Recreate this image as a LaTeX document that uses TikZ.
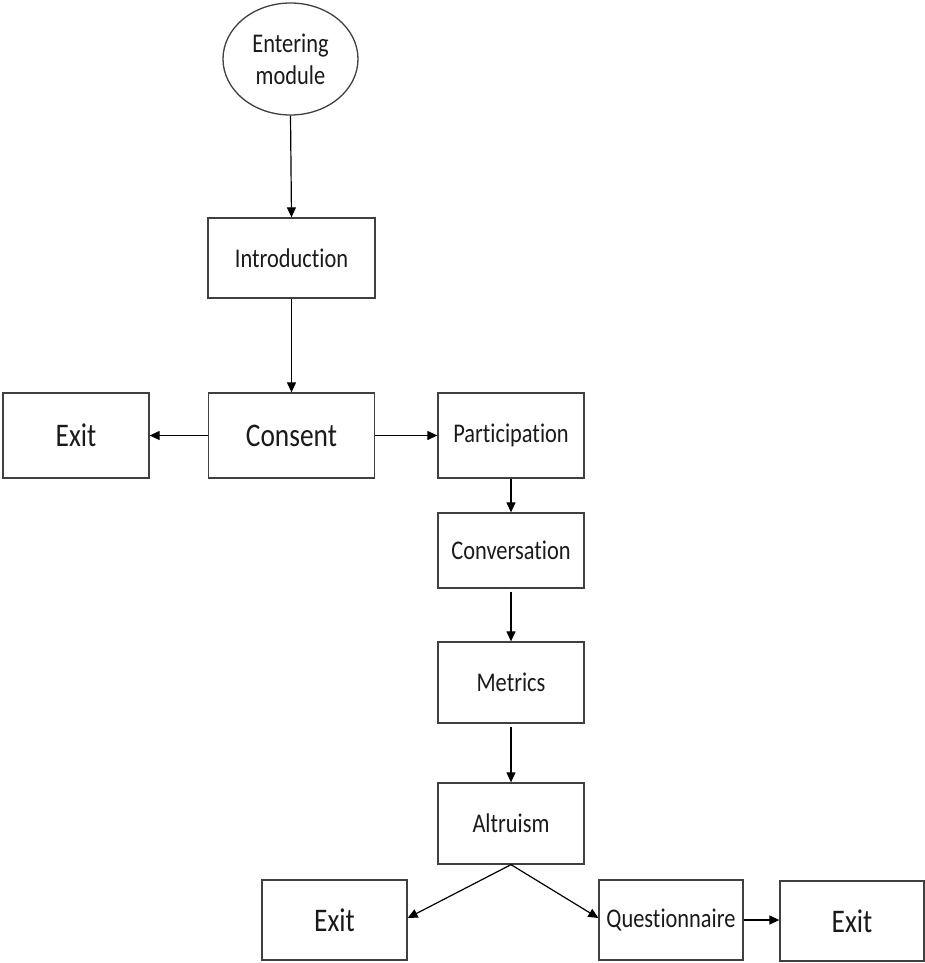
\documentclass[tikz,border=0pt]{standalone}
\usepackage{fontspec}
\setmainfont[FakeStretch=0.83, Ligatures={NoCommon}]{Carlito}
\usetikzlibrary{shapes.geometric,arrows.meta}
\definecolor{boxline}{HTML}{404040}
\definecolor{txt}{HTML}{1A1A1A}
\tikzset{
  box/.style={draw=boxline, line width=1.3pt, rectangle, inner sep=0pt, text=txt, font=\fontsize{27}{31}\selectfont},
  bigbox/.style={box, font=\fontsize{33}{37}\selectfont},
  oval/.style={draw=boxline, line width=1.3pt, ellipse, inner sep=0pt, text=txt, align=center, font=\fontsize{27}{32}\selectfont},
  arr/.style={draw=black, line width=1.2pt, -{Triangle[length=10pt,width=9pt]}}
}
\begin{document}
\begin{tikzpicture}[x=1pt,y=-1pt]
\useasboundingbox (0,0) rectangle (925,963);
\node[oval, minimum width=135pt, minimum height=112pt] (ent) at (290.5,59) {Entering\\module};
\node[box, minimum width=167pt, minimum height=80pt] (intro) at (291.5,258) {Introduction};
\node[bigbox, minimum width=166pt, minimum height=85pt] (cons) at (291.5,435.5) {Consent};
\node[bigbox, minimum width=146pt, minimum height=85pt] (exitA) at (76,435.5) {Exit};
\node[box, minimum width=146pt, minimum height=85pt] (part) at (511,435.5) {Participation};
\node[box, minimum width=146pt, minimum height=75pt] (conv) at (511,550.5) {Conversation};
\node[box, minimum width=146pt, minimum height=81pt] (metr) at (511,682.5) {Metrics};
\node[box, minimum width=146pt, minimum height=81pt] (altr) at (511,823.5) {Altruism};
\node[bigbox, minimum width=145pt, minimum height=80pt] (exitB) at (334.5,920) {Exit};
\node[box, minimum width=144pt, minimum height=80pt] (quest) at (671,920) {Questionnaire};
\node[bigbox, minimum width=144pt, minimum height=80pt] (exitC) at (852,921) {Exit};
\draw[arr] (ent.south) -- (intro.north);
\draw[arr] (intro.south) -- (cons.north);
\draw[arr] (cons.west) -- (exitA.east);
\draw[arr] (cons.east) -- (part.west);
\draw[arr] (part.south) -- (conv.north);
\draw[arr, shorten <=3pt] (conv.south) -- (metr.north);
\draw[arr, shorten <=3pt] (metr.south) -- (altr.north);
\draw[arr] (altr.south) -- ([yshift=2pt]exitB.east);
\draw[arr] (altr.south) -- ([yshift=2pt]quest.west);
\draw[arr] (quest.east) -- (quest.east -| exitC.west);
\end{tikzpicture}
\end{document}
